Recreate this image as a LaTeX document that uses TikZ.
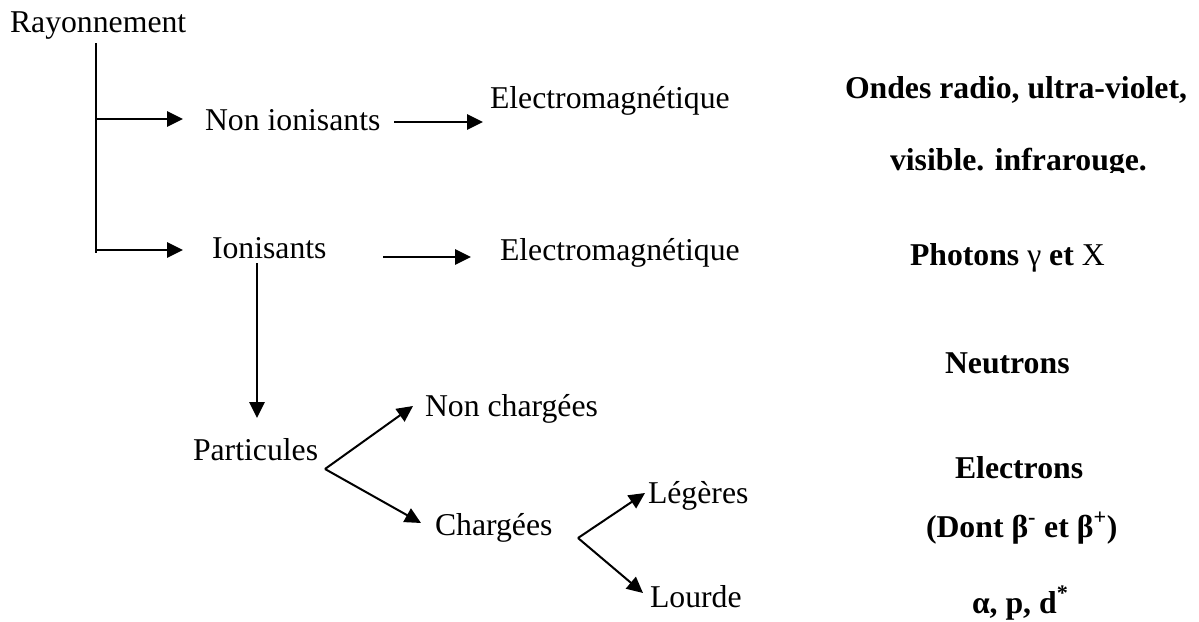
\documentclass[tikz,border=0pt]{standalone}
\usepackage{fontspec}
\setmainfont{Liberation Serif}
\usetikzlibrary{arrows.meta}
\tikzset{
  lbl/.style={anchor=base west, inner sep=0pt, outer sep=0pt, font=\fontsize{23.8}{28}\selectfont},
  blbl/.style={lbl, font=\fontsize{23.8}{28}\selectfont\bfseries},
  ln/.style={line width=1.5pt, line cap=butt},
  arr/.style={ln, -{Triangle[length=12pt,width=11.5pt]}},
}
\begin{document}
\begin{tikzpicture}[x=0.75pt,y=-0.75pt]
\clip (0,0) rectangle (1199,621);
\fill[white] (0,0) rectangle (1199,621);
% left tree nodes
\node[lbl] (ray) at (10,32) {Rayonnement};
\node[lbl] (nonion) at (205,130) {Non ionisants};
\node[lbl] (ion) at (212,258) {Ionisants};
\node[lbl] (em1) at (490,108) {Electromagnétique};
\node[lbl] (em2) at (500,260) {Electromagnétique};
\node[lbl] (part) at (193,460) {Particules};
\node[lbl] (nonch) at (425,416) {Non chargées};
\node[lbl] (charg) at (435,535) {Chargées};
\node[lbl] (leg) at (648,503) {Légères};
\node[lbl] (lour) at (650,607) {Lourde};
% right column
\node[blbl] (ondes) at (845,98) {Ondes radio, ultra-violet,};
\begin{scope}
\clip (860,130) rectangle (1180,172);
\node[blbl] (visib) at (890,170) {visible. infrarouge.};
\end{scope}
\node[blbl] (phot) at (910,265) {Photons \mdseries γ \bfseries et \mdseries X};
\node[blbl] (neut) at (945,373) {Neutrons};
\node[blbl] (elec) at (955,478) {Electrons};
\node[blbl] (dont) at (926,537) {(Dont β\textsuperscript{-} et β\textsuperscript{+})};
\node[blbl] (alph) at (972,613) {α, p, d\textsuperscript{*}};
% connector points
\coordinate (t0) at (96,43);
\coordinate (t1) at (96,119);
\coordinate (t2) at (96,250);
\coordinate (t3) at (96,253);
\coordinate (h1) at (183,119);
\coordinate (h2) at (183,250);
\coordinate (a1s) at (394,122);
\coordinate (a1e) at (483,122);
\coordinate (a2s) at (383,257);
\coordinate (a2e) at (471,257);
\coordinate (v0) at (257,263);
\coordinate (v1) at (257,418);
\coordinate (f1) at (325,469);
\coordinate (f1a) at (413,406);
\coordinate (f1b) at (421,523);
\coordinate (f2) at (578,538);
\coordinate (f2a) at (645,493);
\coordinate (f2b) at (643,593);
% connectors
\draw[ln] (t0) -- (t3);
\draw[arr] (t1) -- (h1);
\draw[arr] (t2) -- (h2);
\draw[arr] (a1s) -- (a1e);
\draw[arr] (a2s) -- (a2e);
\draw[arr] (v0) -- (v1);
\draw[arr] (f1) -- (f1a);
\draw[arr] (f1) -- (f1b);
\draw[arr] (f2) -- (f2a);
\draw[arr] (f2) -- (f2b);
\end{tikzpicture}
\end{document}
